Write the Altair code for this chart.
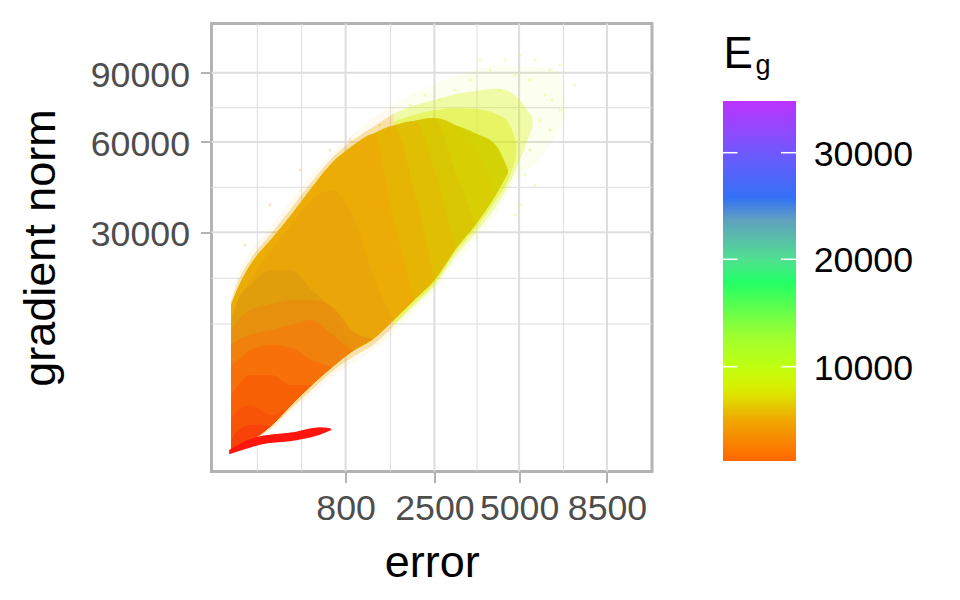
import altair as alt
import pandas as pd

FONT = "Liberation Sans"

x_major = [800, 2500, 5000, 8500]
x_minor = [45, 308, 1540, 3650, 6650]
y_major = [30000, 60000, 90000]
y_minor = [10070, 18670, 43660, 74100]

# cloud columns: error, and upper / lower gradient norm of the dense core
xs = [0.09, 4, 25, 100, 225, 400, 625, 900, 1225, 1600, 2025, 2500, 3025, 3600, 4225, 4624]
U = [13330, 16630, 21670, 27910, 34950, 43430, 52100, 58450, 63150, 66500, 68500, 69700, 66790, 63500, 58850, 49590]
L = [0, 7, 55, 373, 1295, 2690, 4380, 6225, 7820, 10720, 14260, 18300, 25320, 32040, 41140, 48500]

# faint scatter around the core
halo_x = [0.09, 4, 25, 100, 225, 400, 625, 900, 1225, 1600, 2025, 2500, 3025, 3600, 4225, 4900, 5625, 6400, 6800]
halo_u = [15000, 19500, 25000, 31500, 39550, 47800, 55800, 63000, 69700, 75500, 80600, 84500, 88500, 91400, 93500, 93500, 92700, 91400, 74000]
halo_l = [0, 7, 55, 250, 900, 1930, 3400, 4800, 6300, 8700, 12000, 15800, 22000, 27500, 35000, 46000, 52000, 64000, 73000]
fringe_x = [0.09, 4, 25, 100, 225, 400, 625, 900, 1225, 1600, 2025, 2500, 3025, 3600, 4225, 4624, 5476]
fringe_u = [14000, 18000, 23000, 29500, 37000, 45500, 54000, 60700, 66000, 71500, 75000, 77500, 80000, 81500, 82500, 81500, 70000]
fringe_l = [0, 7, 55, 310, 1100, 2300, 3900, 5500, 7000, 9700, 13100, 17000, 23600, 29700, 37500, 44000, 66000]
SPLIT = 9
inner_x = [1600, 2025, 2500, 3025, 3600, 4225, 4624, 4900]
inner_u = [68000, 71000, 73000, 74000, 73500, 71500, 68000, 60000]
inner_l = [10000, 13500, 17500, 24500, 31000, 39500, 46000, 54000]

# stray points
dots_right_x = [4524, 5030, 5563, 6126, 6516, 7117, 5934, 5382, 4859, 4043, 3448, 3025, 2640, 2275, 1939, 5747, 6126, 5382, 5208, 5563, 4360, 3738, 6516, 5030, 4859, 6200]
dots_right_y = [96100, 98600, 96100, 91300, 93800, 84300, 79700, 86500, 88900, 91300, 86500, 81900, 77500, 79700, 75200, 68800, 64700, 56900, 47800, 44400, 81900, 96100, 73100, 38000, 35000, 77500]
dots_left_x = [1347, 863, 600, 294, 96, 14]
dots_left_y = [66800, 60800, 56900, 49600, 38000, 26600]

# colour zones, painted far end first: (colour, upper bounds per column)
zones = [
    ("#D2D206", U),
    ("#D8CC04", U[:13] + [56930, 41140]),
    ("#DCC404", U[:12] + [49590, 32040]),
    ("#E2BA04", U[:11] + [49590, 25320]),
    ("#E8B004", U[:10] + [42770, 18300]),
    ("#EEA806", U[:9] + [33490, 14260]),
    ("#EAA40A", [10720, 14260, 18300, 25320, 32040, 39550, 42770, 34950, 19400, 10720]),
    ("#DE9A10", [10720, 14260, 17250, 20510, 20510, 16220, 12420, 6225]),
    ("#E88A10", [9140, 10720, 12420, 13500, 14260, 14260, 13000, 9000, 7820]),
    ("#F47A0C", [7000, 7680, 8390, 9140, 9900, 10720, 8390, 6225]),
    ("#FA6A08", [4590, 5150, 6350, 7000, 6610, 5150, 4380]),
    ("#F85A06", [1930, 2690, 3580, 3580, 2690, 2690]),
    ("#F8500A", [580, 1025, 1295, 790, 1295]),
    ("#F83A0A", [67, 260, 405, 373]),
]

streak_x = [0, 10, 54, 238, 484, 600]
streak_u = [0, 34, 112, 188, 313, 287]
streak_l = [-5, 1, 25, 67, 169, 262]

eg_domain = [1196, 5030, 6000, 7000, 8100, 10000, 12800, 17900, 20000, 23700, 25800, 30000, 34830]
eg_range = ["#FF6600", "#F0A800", "#E8C000", "#E0DA00", "#D8F000", "#C0FF10", "#A0FF30", "#22FF66",
            "#50E090", "#60A0C0", "#3370F5", "#7058FF", "#BB33FF"]
legend_ticks = [10000, 20000, 30000]

x_scale = alt.Scale(type="sqrt", domain=[-20.25, 10650], nice=False, zero=False)
y_scale = alt.Scale(type="sqrt", domain=[-284, 114990], nice=False, zero=False)
color_scale = alt.Scale(domain=eg_domain, range=eg_range, interpolate="rgb")

x_axis = alt.Axis(values=x_major, grid=False, domain=False, labelFlush=False, labelOverlap=False,
                  format="d", tickSize=11, tickWidth=2, tickColor="#B3B3B3", labelColor="#4D4D4D",
                  labelFontSize=35.7, labelFont=FONT, labelPadding=9,
                  titleFontSize=45, titleFont=FONT, titleFontWeight="normal", titleColor="#000000",
                  titlePadding=14)
y_axis = alt.Axis(values=y_major, grid=False, domain=False, labelOverlap=False,
                  format="d", tickSize=11, tickWidth=2, tickColor="#B3B3B3", labelColor="#4D4D4D",
                  labelFontSize=35.7, labelFont=FONT, labelPadding=11, labelOffset=2.5,
                  titleFontSize=45, titleFont=FONT, titleFontWeight="normal", titleColor="#000000",
                  titlePadding=27)


def X(field):
    return alt.X(field, scale=x_scale, axis=x_axis, title="error")


def Y(field):
    return alt.Y(field, scale=y_scale, axis=y_axis, title="gradient norm")


def rules_x(values, width):
    return alt.Chart(pd.DataFrame({"v": values})).mark_rule(color="#DEDEDE", strokeWidth=width).encode(x=X("v:Q"))


def rules_y(values, width):
    return alt.Chart(pd.DataFrame({"v": values})).mark_rule(color="#DEDEDE", strokeWidth=width).encode(y=Y("v:Q"))


def area(xv, up, lo, eg=None, color=None, **mark):
    df = pd.DataFrame({"x": xv, "up": up, "lo": lo})
    enc = dict(x=X("x:Q"), y=Y("up:Q"), y2=alt.Y2("lo:Q"))
    if eg is not None:
        df["Eg"] = eg
        enc["color"] = alt.Color("Eg:Q", scale=color_scale, legend=None)
    if color is not None:
        mark["color"] = color
    return alt.Chart(df).mark_area(interpolate="monotone", **mark).encode(**enc)


def dots(xv, yv, eg):
    df = pd.DataFrame({"x": xv, "y": yv, "Eg": eg})
    return alt.Chart(df).mark_circle(size=10, opacity=0.25).encode(
        x=X("x:Q"), y=Y("y:Q"), color=alt.Color("Eg:Q", scale=color_scale, legend=None))


def text(label, x, y, size, align="left"):
    return alt.Chart(pd.DataFrame({"t": [label]})).mark_text(
        font=FONT, fontSize=size, align=align, baseline="alphabetic", color="#000000").encode(
        text="t:N", x=alt.value(x), y=alt.value(y))


layers = [rules_x(x_minor, 1), rules_x(x_major, 2), rules_y(y_minor, 1), rules_y(y_major, 2)]

# scatter halo: orange on the left half, yellow-green on the right
layers.append(dots(dots_right_x, dots_right_y, 8800))
layers.append(dots(dots_left_x, dots_left_y, 5000))
layers.append(area(halo_x[:SPLIT + 1], halo_u[:SPLIT + 1], halo_l[:SPLIT + 1], eg=5000, opacity=0.06))
layers.append(area(halo_x[SPLIT:], halo_u[SPLIT:], halo_l[SPLIT:], eg=8800, opacity=0.06))
layers.append(area(fringe_x[:SPLIT + 1], fringe_u[:SPLIT + 1], fringe_l[:SPLIT + 1], eg=5000, opacity=0.3))
layers.append(area(fringe_x[SPLIT:], fringe_u[SPLIT:], fringe_l[SPLIT:], eg=8200, opacity=0.3))
layers.append(area(inner_x, inner_u, inner_l, eg=8000, opacity=0.4))

for i, (c, tops) in enumerate(zones):
    n = len(tops)
    layers.append(area(xs[:n], tops, L[:n], color=c, opacity=1.0 if i == 0 else 0.7))
layers.append(area(streak_x, streak_u, streak_l, color="#FF1510", stroke="#FF1510", strokeWidth=1.5))

# colour bar for E_g (plot-relative pixels), drawn as a gradient so the white ticks can sit on it
span = eg_domain[-1] - eg_domain[0]
stops = [alt.GradientStop(offset=(v - eg_domain[0]) / span, color=c) for v, c in zip(eg_domain, eg_range)]
layers.append(alt.Chart(pd.DataFrame({"a": [0]})).mark_rect(
    color=alt.LinearGradient(gradient="linear", stops=stops, x1=0, x2=0, y1=1, y2=0)).encode(
    x=alt.value(511.5), x2=alt.value(584.5), y=alt.value(77.5), y2=alt.value(437.5)))

for label, py in zip(legend_ticks, [343.2, 235.8, 129.2]):
    for a, b in [(511.5, 526), (569.5, 584.5)]:
        layers.append(alt.Chart(pd.DataFrame({"a": [0]})).mark_rule(color="white", strokeWidth=1.5).encode(
            x=alt.value(a), x2=alt.value(b), y=alt.value(py)))
    layers.append(text(str(label), 701.5, py + 12.8, 35.7, align="right"))

# legend title with its subscript
layers.append(text("E", 512, 44.8, 44))
layers.append(text("g", 544, 50, 27))

chart = alt.layer(*layers).properties(
    width=440.5, height=448,
    padding={"left": 203.5, "top": 15.5, "right": 299, "bottom": 120},
    autosize=alt.AutoSizeParams(type="none"),
    background="white",
).configure_view(stroke="#B3B3B3", strokeWidth=3)

chart.save("out.html", embed_options={"renderer": "svg", "actions": False})
